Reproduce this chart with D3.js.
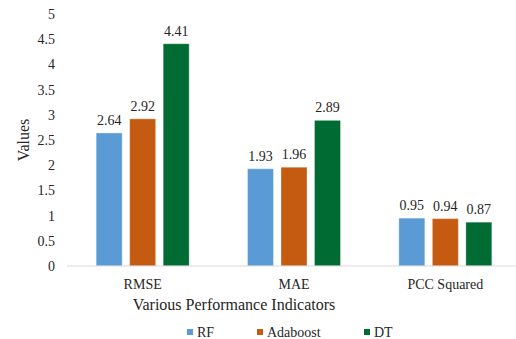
<!DOCTYPE html>
<html>
<head>
<meta charset="utf-8">
<script src="https://cdn.jsdelivr.net/npm/d3@7"></script>
<style>
  html, body { margin: 0; padding: 0; background: #fff; }
</style>
</head>
<body>
<svg id="chart" width="516" height="339"></svg>
<script>
// Performance indicators per model
const categories = ["RMSE", "MAE", "PCC Squared"];
const seriesNames = ["RF", "Adaboost", "DT"];
const rfValues = [2.64, 1.93, 0.95];
const adaboostValues = [2.92, 1.96, 0.94];
const dtValues = [4.41, 2.89, 0.87];
const yTicks = [0, 0.5, 1, 1.5, 2, 2.5, 3, 3.5, 4, 4.5, 5];
const seriesColors = ["#5b9bd5", "#c55a11", "#006b33"];

const FONT = '"Liberation Serif"';
const INK = "#262626";

const seriesValues = [rfValues, adaboostValues, dtValues];
const rows = categories.map((c, i) => ({
  category: c,
  values: seriesNames.map((s, j) => ({ series: s, value: seriesValues[j][i] }))
}));

const svg = d3.select("#chart");
const plot = { left: 67, right: 521, top: 14, bottom: 266 };

const x0 = d3.scaleBand().domain(categories).range([plot.left, plot.right]).padding(0);
const groupWidth = 93;
const x1 = d3.scaleBand().domain(seriesNames)
  .range([(x0.bandwidth() - groupWidth) / 2, (x0.bandwidth() + groupWidth) / 2])
  .paddingInner(0.224).paddingOuter(0);
const y = d3.scaleLinear().domain([0, 5]).range([plot.bottom, plot.top]);
const color = d3.scaleOrdinal().domain(seriesNames).range(seriesColors);

function styleText(sel, size) {
  sel.style("font-family", FONT).style("font-size", size + "px").style("fill", INK);
}

// y axis: labels only
const yAxis = svg.append("g")
  .attr("transform", `translate(55,0)`)
  .call(d3.axisLeft(y).tickValues(yTicks).tickSize(0).tickPadding(0).tickFormat(d3.format("~g")));
yAxis.select(".domain").remove();
yAxis.attr("font-family", null).attr("font-size", null);
yAxis.selectAll("text").call(styleText, 14);

// category labels
const xAxis = svg.append("g")
  .attr("transform", `translate(0,${plot.bottom})`)
  .call(d3.axisBottom(x0).tickSize(0).tickPadding(0));
xAxis.select(".domain").remove();
xAxis.attr("font-family", null).attr("font-size", null);
xAxis.selectAll("text").attr("y", 22.5).attr("dy", null).call(styleText, 14);

// bars
const groups = svg.append("g").selectAll("g")
  .data(rows).join("g")
  .attr("transform", d => `translate(${x0(d.category)},0)`);

groups.selectAll("rect")
  .data(d => d.values).join("rect")
  .attr("x", d => x1(d.series))
  .attr("y", d => y(d.value))
  .attr("width", x1.bandwidth())
  .attr("height", d => y(0) - y(d.value))
  .attr("fill", d => color(d.series))
  .attr("stroke", "#ffffff")
  .attr("stroke-opacity", 0.35)
  .attr("stroke-width", 1);

groups.selectAll("text.value")
  .data(d => d.values).join("text")
  .attr("class", "value")
  .attr("x", d => x1(d.series) + x1.bandwidth() / 2)
  .attr("y", d => y(d.value) - 8)
  .attr("text-anchor", "middle")
  .call(styleText, 14)
  .text(d => d3.format(".2f")(d.value));

// baseline
svg.append("line")
  .attr("x1", plot.left).attr("x2", 516)
  .attr("y1", y(0)).attr("y2", y(0))
  .attr("stroke", "#d9d9d9").attr("stroke-width", 1);

// axis titles
svg.append("text")
  .attr("x", 234).attr("y", 309.5)
  .attr("text-anchor", "middle")
  .call(styleText, 16)
  .text("Various Performance Indicators");

svg.append("text")
  .attr("transform", "translate(28.5,140) rotate(-90)")
  .attr("text-anchor", "middle")
  .call(styleText, 16)
  .text("Values");

// legend
const legendX = [187, 257, 364];
const legend = svg.append("g").selectAll("g")
  .data(seriesNames).join("g")
  .attr("transform", (d, i) => `translate(${legendX[i]},336.5)`);
legend.append("rect")
  .attr("x", 0).attr("y", -7.5).attr("width", 6).attr("height", 6)
  .attr("fill", d => color(d));
legend.append("text")
  .attr("x", 10).attr("y", 0)
  .call(styleText, 14)
  .text(d => d);
</script>
</body>
</html>
